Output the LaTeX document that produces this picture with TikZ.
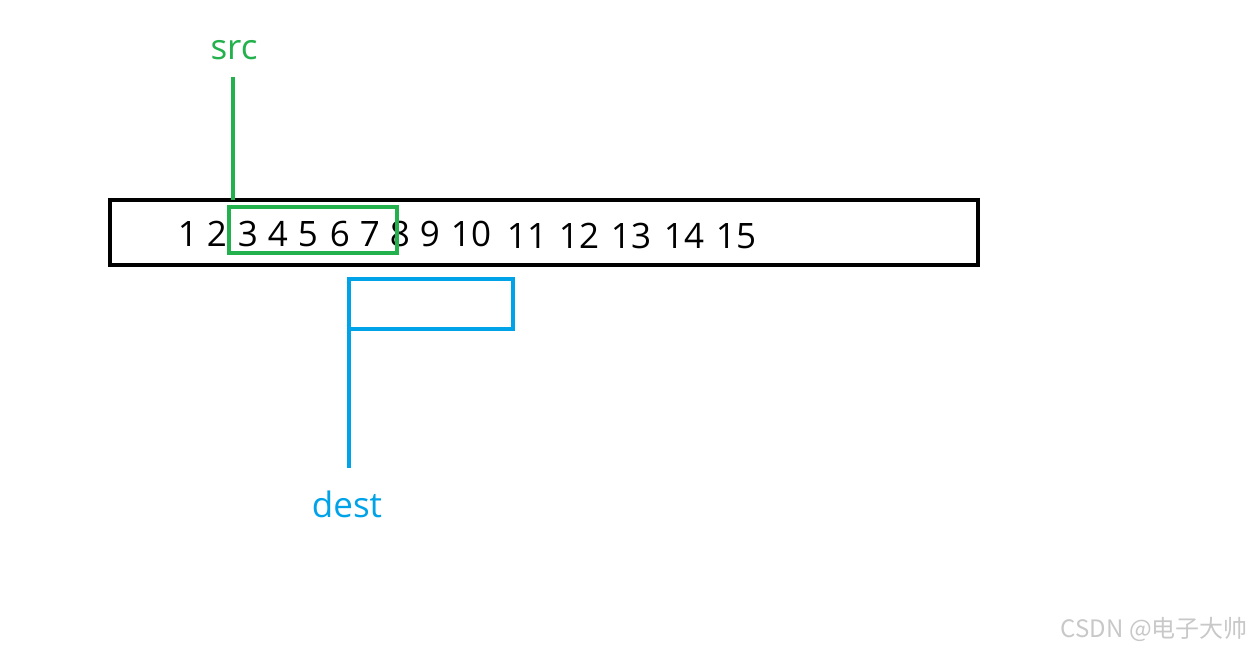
\documentclass[tikz,border=0pt]{standalone}
\usepackage{fontspec}
\setmainfont{Open Sans}
\newfontfamily\cjkfont{Noto Sans CJK SC}
\definecolor{pgreen}{RGB}{34,177,76}
\definecolor{pblue}{RGB}{0,162,232}
\definecolor{wmgray}{RGB}{200,200,200}
\begin{document}
\begin{tikzpicture}[x=1pt,y=-1pt,
  num/.style={anchor=base,inner sep=0pt,font=\fontsize{35}{40}\selectfont},
  lbl/.style={anchor=base,inner sep=0pt,font=\fontsize{35}{40}\selectfont},
  greenline/.style={draw=pgreen,line width=3.5pt},
  blueline/.style={draw=pblue,line width=3.5pt}]
\useasboundingbox (0,0) rectangle (1253,650);
% main array box
\node[draw=black,line width=4.5pt,minimum width=868pt,minimum height=65pt,inner sep=0pt,outer sep=0pt] (arr) at (544,232.5) {};
% numbers
\foreach \n/\x in {1/188,2/217,3/248,4/278,5/308,6/340,7/370,8/400,9/430,10/471}
  \node[num] (n\n) at (\x,246) {\n};
\foreach \n/\x in {11/527,12/579,13/631,14/684,15/736}
  \node[num] (n\n) at (\x,248) {\n};
% src window
\node[greenline,draw,minimum width=168pt,minimum height=46pt,inner sep=0pt,outer sep=0pt] (srcbox) at (313,230) {};
\node[lbl,text=pgreen] (src) at (234,60) {src};
\coordinate (srctop) at (233,77);
\coordinate (srcbot) at (233,200);
\draw[greenline] (srctop) -- (srcbot);
% dest window
\node[blueline,draw,minimum width=164pt,minimum height=50pt,inner sep=0pt,outer sep=0pt] (destbox) at (431,304) {};
\node[lbl,text=pblue] (dest) at (347,517) {dest};
\coordinate (destbot) at (349,468);
\draw[blueline] (destbox.north west) -- (destbot);
% watermark
\node[anchor=base east,inner sep=0pt,text=wmgray,font=\cjkfont\fontsize{24}{28}\selectfont] (wm) at (1248,637) {CSDN @电子大帅};
\end{tikzpicture}
\end{document}
